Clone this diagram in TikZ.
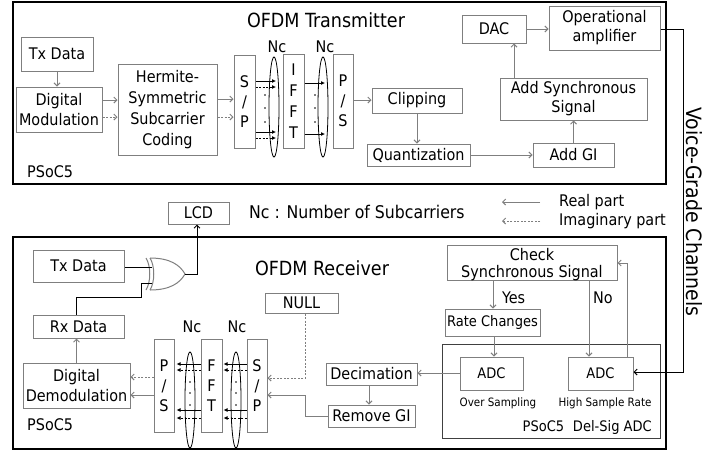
\documentclass[tikz,border=0pt]{standalone}
\usepackage{fontspec}
\setmainfont{DejaVu Sans Condensed}
\usetikzlibrary{arrows.meta,calc}
\definecolor{bx}{HTML}{7F7F7F}
\newcommand{\fsz}[2]{\fontsize{#1}{#2}\selectfont}
\tikzset{
  box/.style={draw=bx, line width=1pt, inner sep=0pt, align=center, font=\fsz{16}{20}},
  wh/.style 2 args={minimum width=#1pt, minimum height=#2pt},
  outerbox/.style={draw=black, line width=1.5pt},
  ga/.style={draw=bx, line width=1pt, -{Straight Barb[length=3pt,width=6pt]}},
  gd/.style={ga, dash pattern=on 2pt off 1.5pt},
  ba/.style={draw=black, line width=0.8pt, -{Latex[length=4pt,width=4pt]}},
  bd/.style={ba, dash pattern=on 2pt off 1.5pt},
  lbl/.style={inner sep=0pt, font=\fsz{16}{20}},
  ell/.style={draw=black, line width=0.8pt},
  dotmark/.style={fill=black},
}
\begin{document}
\begin{tikzpicture}[x=1pt,y=-1pt]
\useasboundingbox (0,0) rectangle (722,451);
\fill[white] (0,0) rectangle (722,451);

% ---------------- Transmitter ----------------
\draw[outerbox] (13,2) rectangle (666,184);
\node[lbl, font=\fsz{19.5}{22}] (ttitle) at (326,20) {OFDM Transmitter};
\node[lbl, anchor=west] (tpsoc) at (27,172) {PSoC5};

\node[box, wh={72}{34}] (txd) at (57,54) {Tx Data};
\node[box, wh={86}{45}] (dmod) at (59,109.5) {Digital\\Modulation};
\node[box, wh={99}{91}, font=\fsz{16}{21}] (herm) at (167.5,109.5) {Hermite-\\Symmetric\\Subcarrier\\Coding};
\node[box, wh={21}{93}] (sp1) at (244.5,101.5) {S\\/\\P};
\node[box, wh={21}{94}, font=\fsz{16}{21}] (ifft) at (293.5,101) {I\\F\\F\\T};
\node[box, wh={20}{94}] (ps1) at (343,101) {P\\/\\S};
\node[box, wh={90}{25}] (clip) at (417,100.5) {Clipping};
\node[box, wh={103}{22}] (quant) at (418.5,155) {Quantization};
\node[box, wh={81}{24}] (addgi) at (573.5,155) {Add GI};
\node[box, wh={147}{42}, font=\fsz{16}{19}] (async) at (573.5,99) {Add Synchronous\\Signal};
\node[box, wh={64}{28}] (dac) at (494,29) {DAC};
\node[box, wh={111}{44}, font=\fsz{16}{19}] (opamp) at (604.5,28) {Operational\\amplifier};

\coordinate (e1) at (274,107);
\coordinate (e2) at (323,107);
\draw[ell] (e1) ellipse [x radius=5pt, y radius=50pt];
\draw[ell] (e2) ellipse [x radius=5pt, y radius=50pt];
\node[lbl] (nc1) at (277,47) {Nc};
\node[lbl] (nc2) at (325,47) {Nc};

\draw[ga] (txd.south) -- (txd.south |- dmod.north);
\draw[ga] (dmod.east |- 0,100) -- (herm.west |- 0,100);
\draw[gd] (dmod.east |- 0,117) -- (herm.west |- 0,117);
\draw[ga] (herm.east |- 0,99) -- (sp1.west |- 0,99);
\draw[gd] (herm.east |- 0,117) -- (sp1.west |- 0,117);
\draw[ba] (sp1.east |- 0,81) -- ($(e1 |- 0,81)+(2,0)$);
\draw[bd] (sp1.east |- 0,87) -- ($(e1 |- 0,87)+(2,0)$);
\draw[ba] (sp1.east |- 0,132) -- ($(e1 |- 0,132)+(2,0)$);
\draw[bd] (sp1.east |- 0,138) -- ($(e1 |- 0,138)+(2,0)$);
\foreach \yy in {95,108,122} {\fill[dotmark] (265,\yy) circle (0.9pt);}
\draw[ba] (ifft.east |- 0,83) -- ($(e2 |- 0,83)+(2,0)$);
\draw[ba] (ifft.east |- 0,134) -- ($(e2 |- 0,134)+(2,0)$);
\foreach \yy in {95,108,122} {\fill[dotmark] (315,\yy) circle (0.9pt);}
\draw[ga] (ps1.east |- 0,100) -- (clip.west |- 0,100);
\draw[ga] (clip.south) -- (clip.south |- quant.north);
\draw[ga] (quant.east) -- (addgi.west);
\draw[ga] (addgi.north) -- (addgi.north |- async.south);
\draw[ga] (async.north -| 514,0) -- (dac.south -| 514,0);
\draw[ga] (dac.east) -- (dac.east -| opamp.west);

% ---------------- legend / middle ----------------
\node[box, wh={61}{22}] (lcd) at (198.5,213) {LCD};
\node[lbl, anchor=west, font=\fsz{17.5}{20}] (ncdef) at (249,212) {Nc : Number of Subcarriers};
\coordinate (lr0) at (540,202);
\coordinate (lr1) at (502,202);
\coordinate (li0) at (540,221);
\coordinate (li1) at (502,221);
\draw[ga] (lr0) -- (lr1);
\draw[gd] (li0) -- (li1);
\node[lbl, anchor=west] (lreal) at (559,202) {Real part};
\node[lbl, anchor=west] (limag) at (559,221) {Imaginary part};
\node[lbl, font=\fsz{21}{24}, rotate=-90] (vgc) at (694,212) {Voice-Grade Channels};

% ---------------- Receiver ----------------
\draw[outerbox] (13,237) rectangle (666,449);
\node[lbl, font=\fsz{19.5}{22}] (rtitle) at (322,268) {OFDM Receiver};
\node[lbl, anchor=west] (rpsoc) at (27,425) {PSoC5};

\node[box, wh={91}{32}] (rtx) at (78.5,266) {Tx Data};
\node[box, wh={91}{23}] (rrx) at (78.5,326.5) {Rx Data};
\node[box, wh={107}{45}] (ddem) at (76.5,385.5) {Digital\\Demodulation};
\node[box, wh={20}{93}] (ps2) at (164,385.5) {P\\/\\S};
\node[box, wh={21}{93}] (fft) at (211.5,385.5) {F\\F\\T};
\node[box, wh={20}{93}] (sp2) at (257,385.5) {S\\/\\P};
\node[box, wh={73}{20}] (null) at (301.5,303) {NULL};
\node[box, wh={91}{22}] (dec) at (371.5,374) {Decimation};
\node[box, wh={87}{22}] (rgi) at (371.5,416) {Remove GI};
\node[box, wh={170}{35}] (check) at (532,262.5) {};
\node[lbl, align=center, font=\fsz{16}{17}] (checkt) at (532,264.5) {Check\\Synchronous Signal};
\node[box, wh={95}{27}, font=\fsz{14.5}{17}] (rate) at (492.5,322.5) {Rate Changes};
\draw[draw=black!75, line width=1pt] (442,344) rectangle (660,438);
\node[box, wh={63}{33}, font=\fsz{14.5}{17}] (adc1) at (491.5,373.5) {ADC};
\node[box, wh={65}{33}, font=\fsz{14.5}{17}] (adc2) at (600.5,373.5) {ADC};
\node[lbl, font=\fsz{11.5}{14}] (oversamp) at (498,403) {Over Sampling};
\node[lbl, font=\fsz{11.5}{14}] (highsr) at (605,403) {High Sample Rate};
\node[lbl, anchor=east, font=\fsz{14.5}{17}] (delsig) at (652,427) {PSoC5\hspace{0.6em}Del-Sig ADC};

\coordinate (e3) at (190,400);
\coordinate (e4) at (236,400);
\draw[ell] (e3) ellipse [x radius=5pt, y radius=48pt];
\draw[ell] (e4) ellipse [x radius=5pt, y radius=48pt];
\node[lbl] (nc3) at (192,327) {Nc};
\node[lbl] (nc4) at (237,327) {Nc};

% FFT -> P/S and S/P -> FFT
\foreach \yy in {364,410} {
  \draw[ba] (fft.west |- 0,\yy) -- ($(ps2.east |- 0,\yy)+(2,0)$);
  \draw[ba] (sp2.west |- 0,\yy) -- ($(fft.east |- 0,\yy)+(1,0)$);
}
\foreach \yy in {370,418} {
  \draw[bd] (fft.west |- 0,\yy) -- ($(ps2.east |- 0,\yy)+(2,0)$);
  \draw[bd] (sp2.west |- 0,\yy) -- ($(fft.east |- 0,\yy)+(1,0)$);
}
\foreach \yy in {382,393,405} {
  \fill[dotmark] (190,\yy) circle (0.9pt);
  \fill[dotmark] (236,\yy) circle (0.9pt);
}
\draw[gd] (ps2.west |- 0,377) -- (ddem.east |- 0,377);
\draw[ga] (ps2.west |- 0,395) -- (ddem.east |- 0,395);
\draw[ga] (ddem.north) -- (ddem.north |- rrx.south);
\draw[gd] (null.south -| 305,0) -- (305,378) -- (sp2.east |- 0,378);
\draw[ga] (rgi.west) -- (305,416) -- (305,395) -- (sp2.east |- 0,395);
\draw[ga] (dec.south -| 369,0) -- (rgi.north -| 369,0);
\draw[ga] (adc1.west |- 0,373) -- (dec.east |- 0,373);
\draw[ga] (check.south -| 493,0) -- (rate.north -| 493,0);
\node[lbl, anchor=west] (yes) at (502,298) {Yes};
\draw[ga] (check.south -| 589,0) -- (adc2.north -| 589,0);
\node[lbl] (no) at (603,298) {No};
\draw[ga] (rate.south -| 494,0) -- (adc1.north -| 494,0);
\draw[ga] (adc2.north -| 627,0) -- (627,263) -- (check.east |- 0,263);

% channel
\draw[draw=black, line width=1pt, -{Straight Barb[length=3pt,width=6pt]}]
  (opamp.east |- 0,29) -- (683,29) -- (683,372) -- (adc2.east |- 0,372);

% XOR gate
\coordinate (gout) at (185,274);
\draw[draw=bx, line width=1pt] (150,258) .. controls (155,266) and (155,282) .. (150,290);
\draw[draw=bx, line width=1pt] (146,258) .. controls (151,266) and (151,282) .. (146,290);
\draw[draw=bx, line width=1pt] (150,258) .. controls (170,258) and (180,265) .. (gout)
  .. controls (180,283) and (170,290) .. (150,290);
\draw[black, line width=1pt] (rtx.east |- 0,267) -- (152,267);
\draw[black, line width=1pt] (rrx.north -| 76,0) -- (76,297) -- (141,297) -- (141,283) -- (152,283);
\draw[black, line width=1pt, -{Straight Barb[length=3pt,width=6pt]}] (gout) -- (197,274) -- (lcd.south -| 197,0);
\end{tikzpicture}
\end{document}
